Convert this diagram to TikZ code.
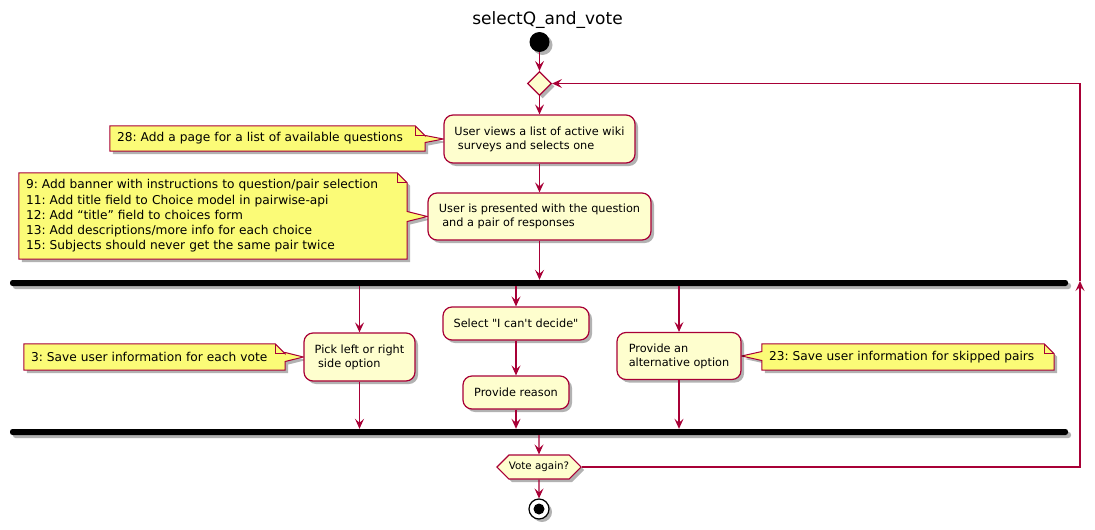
\documentclass[tikz,border=0pt]{standalone}
\usepackage{fontspec}
\setmainfont{DejaVu Sans}
\frenchspacing
\usetikzlibrary{arrows.meta,shapes.geometric,shapes.symbols,shadows,calc,backgrounds}
\definecolor{umlred}{HTML}{A80036}
\definecolor{actfill}{HTML}{FEFECE}
\definecolor{notefill}{HTML}{FBFB77}
\newcommand{\ind}{\hspace*{0.3em}}
% note pointing to the right, #1 note, #2 target, #3 half base
\newcommand{\noteR}[3]{%
\begin{scope}[on background layer]
\draw[notebox] (#1.north west) -- ([xshift=-10pt]#1.north east) -- ([yshift=-10pt]#1.north east)
  -- ($(#1.east |- #2)+(0,#3)$) -- (#2) -- ($(#1.east |- #2)-(0,#3)$)
  -- (#1.south east) -- (#1.south west) -- cycle;
\draw[notefold] ([xshift=-10pt]#1.north east) |- ([yshift=-10pt]#1.north east);
\end{scope}}
% note pointing to the left
\newcommand{\noteL}[3]{%
\begin{scope}[on background layer]
\draw[notebox] (#1.north west) -- ([xshift=-10pt]#1.north east) -- ([yshift=-10pt]#1.north east)
  -- (#1.south east) -- (#1.south west) -- ($(#1.west |- #2)-(0,#3)$) -- (#2)
  -- ($(#1.west |- #2)+(0,#3)$) -- cycle;
\draw[notefold] ([xshift=-10pt]#1.north east) |- ([yshift=-10pt]#1.north east);
\end{scope}}
\tikzset{
    shd/.style={drop shadow={shadow xshift=3pt, shadow yshift=-3pt, opacity=0.3, fill=black}},
    act/.style={draw=umlred, fill=actfill, line width=1.2pt, rounded corners=9pt, align=left, inner sep=0pt, font=\fontsize{11.3}{13.8}\selectfont, shd},
    merge/.style={diamond, draw=umlred, fill=actfill, line width=1.2pt, minimum width=24pt, minimum height=24pt, inner sep=0pt, shd},
    decide/.style={signal, signal to=west and east, signal pointer angle=90, draw=umlred, fill=actfill, line width=1.2pt, minimum width=84pt, minimum height=24pt, inner sep=0pt, font=\fontsize{10.3}{12}\selectfont, shd},
    bar/.style={fill=black, rounded corners=2.5pt, minimum width=1058pt, minimum height=6pt, inner sep=0pt, shd},
    startdot/.style={circle, fill=black, minimum size=20pt, inner sep=0pt, shd},
    stopring/.style={circle, draw=black, fill=white, line width=1.2pt, minimum size=20pt, inner sep=0pt, shd},
    stopdot/.style={circle, fill=black, minimum size=11pt, inner sep=0pt},
    notetext/.style={align=left, inner xsep=7pt, inner ysep=3pt, font=\fontsize{12.2}{15.3}\selectfont},
    notebox/.style={draw=umlred, fill=notefill, line width=1pt, shd},
    notefold/.style={draw=umlred, line width=1pt},
    flow/.style={draw=umlred, line width=1.1pt, -{Stealth[length=10pt, width=9pt, inset=4pt]}},
    titletext/.style={font=\fontsize{17}{20}\selectfont}
}
\begin{document}
\begin{tikzpicture}[x=1pt, y=1pt]
\useasboundingbox (0,0) rectangle (1095,-530);

% Title
\node[titletext] (title) at (547.5,-20) {selectQ\_and\_vote};

% Start and loop entry
\node[startdot] (start) at (539.5,-42) {};
\node[merge] (merge) at (539.5,-83.5) {};

% Question selection
\node[act, minimum width=191pt, minimum height=48pt] (view) at (539.5,-139) {User views a list of active wiki\\\ind surveys and selects one};
\node[act, minimum width=223pt, minimum height=47pt] (present) at (539.5,-216.5) {User is presented with the question\\\ind and a pair of responses};

% Fork
\node[bar] (fork) at (539,-283) {};

% Branches
\node[act, minimum width=111pt, minimum height=48pt] (pick) at (359.5,-357) {Pick left or right\\\ind side option};
\node[act, minimum width=146pt, minimum height=33pt] (undecided) at (516,-323.5) {Select \textquotedbl I can\textquotesingle t decide\textquotedbl};
\node[act, minimum width=106pt, minimum height=33pt] (reason) at (516,-392.5) {Provide reason};
\node[act, minimum width=124pt, minimum height=47pt] (alt) at (679,-356) {Provide an\\alternative option};

% Join, decision and end
\node[bar] (join) at (539,-432) {};
\node[decide] (again) at (539,-467) {Vote again?};
\node[stopring] (stop) at (539,-509) {};
\node[stopdot] (stopdot) at (stop) {};

% Notes
\node[notetext, text width=301pt, minimum height=25pt] (n28) at (267.5,-138.5) {28: Add a page for a list of available questions};
\node[notetext, text width=374pt, minimum height=86pt] (n9) at (213,-216) {9: Add banner with instructions to question/pair selection\\11: Add title field to Choice model in pairwise-api\\12: Add “title” field to choices form\\13: Add descriptions/more info for each choice\\15: Subjects should never get the same pair twice};
\node[notetext, text width=247pt, minimum height=26pt] (n3) at (154.5,-357) {3: Save user information for each vote};
\node[notetext, text width=278pt, minimum height=26pt] (n23) at (908,-357) {23: Save user information for skipped pairs};
\noteR{n28}{view.west}{3.5pt}
\noteR{n9}{present.west}{5pt}
\noteR{n3}{pick.west}{4.5pt}
\noteL{n23}{alt.east}{4.5pt}

% Main flow
\draw[flow] (start) -- (merge);
\draw[flow] (merge) -- (view);
\draw[flow] (view) -- (present);
\draw[flow] (present) -- (present.south |- fork.north);

% Fork -> branches
\draw[flow] (pick.north |- fork.south) -- (pick);
\draw[flow] (undecided.north |- fork.south) -- (undecided);
\draw[flow] (undecided) -- (reason);
\draw[flow] (alt.north |- fork.south) -- (alt);

% Branches -> join
\draw[flow] (pick) -- (pick.south |- join.north);
\draw[flow] (reason) -- (reason.south |- join.north);
\draw[flow] (alt) -- (alt.south |- join.north);
\draw[flow] (again.north |- join.south) -- (again);
\draw[flow] (again) -- (stop);

% Loop back
\coordinate (loopup) at (1080,-281);
\draw[flow] (again.east) -| (loopup);
\draw[flow] (loopup) |- (merge.east);

\end{tikzpicture}
\end{document}
